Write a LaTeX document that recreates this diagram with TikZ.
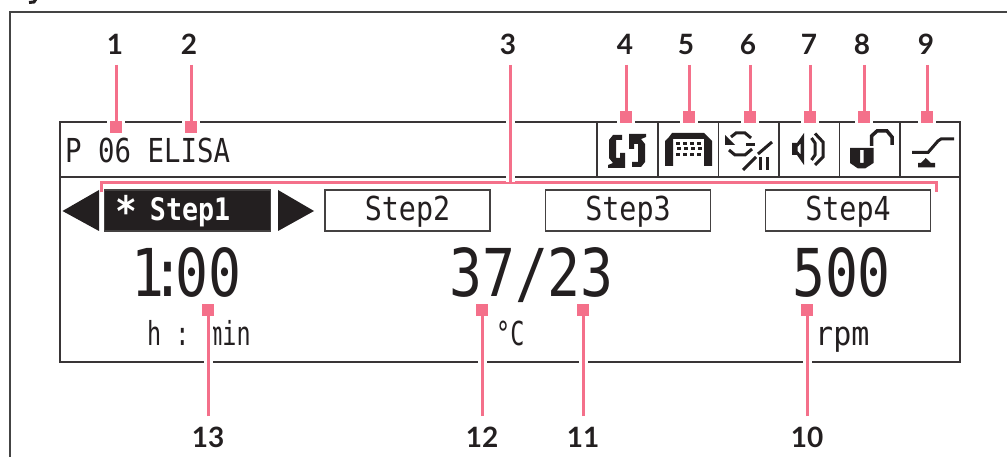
\documentclass[tikz,border=0pt]{standalone}
\usepackage{fontspec}
\newfontfamily\lcdfont[FakeStretch=0.83]{DejaVu Sans Mono}
\newfontfamily\lcdstep[FakeStretch=0.86]{DejaVu Sans Mono}
\newfontfamily\lcdnarrow[FakeStretch=0.71]{DejaVu Sans Mono}
\newfontfamily\lcdwide[FakeStretch=0.91]{DejaVu Sans Mono}
\newfontfamily\numfont{Lato}
\definecolor{pinkc}{HTML}{F4708A}
\definecolor{inkc}{HTML}{231F20}
\definecolor{framec}{HTML}{444444}
\tikzset{
  num/.style={font=\numfont\bfseries\fontsize{28}{28}\selectfont,text=inkc,minimum height=42pt,inner sep=0pt,outer sep=0pt},
  mk/.style={rectangle,fill=pinkc,draw=white,line width=3pt,minimum size=15pt,inner sep=0pt,outer sep=0pt},
  halo/.style={draw=white,line width=9pt},
  pinkline/.style={draw=pinkc,line width=3pt},
  stepbox/.style={rectangle,draw=inkc!85,line width=1.5pt,minimum width=165pt,minimum height=41pt,inner sep=0pt,
    text height=26pt,text depth=5.6pt,text=inkc,font=\lcdstep\fontsize{33}{33}\selectfont},
  lcdsmall/.style={anchor=base west,inner sep=0pt,text=inkc,font=\lcdfont\fontsize{33}{33}\selectfont},
  lcdbig/.style={anchor=base,inner sep=0pt,text=inkc,font=\lcdfont\fontsize{66}{66}\selectfont},
  px/.style={draw=inkc,line width=3pt,line join=miter},
}
\newcommand\callout[2]{%
  \draw[halo] (#1) -- (#2);
  \draw[pinkline] (#1) -- (#2.center);}
\begin{document}
\begin{tikzpicture}[x=1pt,y=-1pt]
\useasboundingbox (0,0) rectangle (1007,457);
\clip (0,0) rectangle (1007,457);
\fill[white] (0,0) rectangle (1007,457);
% outer frame and clipped title descender
\draw[framec,line width=1.6pt] (10,457) -- (10,12) -- (1007,12);
\draw[inkc,line width=3pt] (36,-1) -- (34,2) -- (29,2.5);
% panel
\node[rectangle,draw=inkc!90,line width=1.3pt,minimum width=900pt,minimum height=240pt,inner sep=0pt] (panel) at (510,242) {};
\draw[inkc!90,line width=1.3pt] (60,177) -- (960,177);
\foreach \vx in {597,658,718.5,779,839.5,900}
  \draw[inkc!90,line width=1.3pt] (\vx,122) -- (\vx,177);
% header text
\node[lcdsmall] (title) at (65,163) {P 06 ELISA};
% step row
\fill[inkc] (62.5,211) -- (99,190) -- (99,231) -- cycle;
\fill[inkc] (314,211) -- (278,190) -- (278,231) -- cycle;
\node[stepbox,fill=inkc,minimum width=166pt] (s1) at (187.5,210.5) {};
\node[anchor=base west,inner sep=0pt,text=white,font=\lcdstep\bfseries\fontsize{31}{31}\selectfont] (s1t) at (115,220.5)
  {\raisebox{-6pt}{\fontsize{42}{42}\selectfont *}\hspace{-3pt} Step1};
\node[stepbox] (s2) at (407.5,210.5) {Step2};
\node[stepbox] (s3) at (628,210.5) {Step3};
\node[stepbox] (s4) at (848,210.5) {Step4};
% readouts
\node[lcdbig,anchor=base east] (timev) at (242,296.5) {1\kern-13pt:\kern-9pt 00};
\node[lcdbig] (tempv) at (531.5,296.5) {37/23};
\node[lcdbig] (rpmv) at (841.5,296.5) {500};
\node[anchor=base west,inner sep=0pt,text=inkc,font=\lcdnarrow\fontsize{33}{33}\selectfont] (timeu) at (147,345) {h : min};
\node[anchor=base west,inner sep=0pt,text=inkc,font=\lcdnarrow\fontsize{33}{33}\selectfont] (tempu) at (496,345) {°C};
\node[anchor=base west,inner sep=0pt,text=inkc,font=\lcdwide\fontsize{33}{33}\selectfont] (rpmu) at (815,345) {rpm};
% icon 4: two rotating arrows
\foreach \ang in {0,180}
  \fill[inkc,rotate around={\ang:(627,151)}]
    (622,135) -- (622,140) -- (616,140) -- (616,158) -- (620,158) -- (620,153) -- (625,153) -- (625,168)
    -- (608,168) -- (608,165) -- (613,163) -- (609,158) -- (609,140) -- (613,135) -- cycle;
% icon 5: arch with dots
\fill[inkc] (665,166) -- (665,141) -- (669,137) -- (672,133) -- (704,133) -- (708,137) -- (712,141) -- (712,166)
  -- (704,166) -- (704,139) -- (673,139) -- (673,166) -- cycle;
\foreach \dx in {676,683,690,697} {
  \fill[inkc] (\dx,142) rectangle ++(4,3);
  \fill[inkc] (\dx+1,147.5) rectangle ++(4,3);
  \fill[inkc] (\dx,153) rectangle ++(4,3);
}
% icon 6: cycle arrow, slashes, bars
\draw[px] (731,137) -- (736,133) -- (745,133) -- (751,138);
\draw[px] (729,150) -- (735,155) -- (745,155) -- (752,149);
\fill[inkc] (725,135) -- (725,145) -- (735,145) -- cycle;
\draw[px] (746,145) -- (755,145);
\draw[px] (758,154) -- (772,142);
\draw[px] (743,170) -- (756,157);
\draw[px] (760.5,157) -- (760.5,170);
\draw[px] (767.5,157) -- (767.5,170);
% icon 7: speaker
\fill[inkc,even odd rule] (792,143) -- (797,143) -- (804,133) -- (804,165) -- (797,155) -- (792,155) -- cycle
  (797.5,147) -- (800.5,143.5) -- (800.5,154.5) -- (797.5,151) -- cycle;
\draw[px] (811.5,138) -- (815,143) -- (815,155) -- (811.5,160);
\draw[px] (815,133.5) -- (823,142) -- (823,157) -- (815,165);
% icon 8: open padlock
\fill[inkc,even odd rule] (850,148) -- (873.5,148) -- (873.5,163) -- (865,168.5) -- (858,168.5) -- (850,163) -- cycle
  (860,150) rectangle (863.5,163);
\draw[inkc,line width=3.5pt] (871.5,146) -- (871.5,136) -- (877,131) -- (887,131) -- (892,137) -- (892,145);
% icon 9: foot switch
\draw[px] (912,152.5) -- (928,152.5) -- (938,141) -- (941,139) -- (954,139);
\fill[inkc] (925.7,158) -- (931,163) -- (935,163) -- (935,167.5) -- (918,167.5) -- (918,163) -- (921,163) -- cycle;
% bracket 3
\coordinate (brl) at (101.5,192.5);
\coordinate (brr) at (936.5,192.5);
\coordinate (brm) at (510,182.5);
\draw[pinkline,miter limit=10] (brl) -- (brl |- brm) -- (brr |- brm) -- (brr);
% labels
\node[num] (n1) at (115,44) {1};
\node[num] (n2) at (189,44) {2};
\node[num] (n3) at (508,44) {3};
\node[num] (n4) at (625,44) {4};
\node[num] (n5) at (686,44) {5};
\node[num] (n6) at (748,44) {6};
\node[num] (n7) at (809,44) {7};
\node[num] (n8) at (862,44) {8};
\node[num] (n9) at (926,44) {9};
\node[num] (n13) at (208,437) {13};
\node[num] (n12) at (482,437) {12};
\node[num] (n11) at (583,437) {11};
\node[num] (n10) at (807,437) {10};
% markers
\node[mk] (m1) at (116,127.5) {};
\node[mk] (m2) at (191,127.5) {};
\node[mk] (m4) at (626,117.5) {};
\node[mk] (m5) at (689,117.5) {};
\node[mk] (m6) at (750,117.5) {};
\node[mk] (m7) at (810,117.5) {};
\node[mk] (m8) at (864,117.5) {};
\node[mk] (m9) at (927,117.5) {};
\node[mk] (m13) at (208,310) {};
\node[mk] (m12) at (482,310) {};
\node[mk] (m11) at (583,310) {};
\node[mk] (m10) at (807,310) {};
% connectors
\foreach \i in {1,2,4,5,6,7,8,9} {
  \callout{n\i.south -| m\i}{m\i}
}
\foreach \i in {10,11,12,13} {
  \callout{n\i.north -| m\i}{m\i}
}
\draw[halo] (n3.south -| brm) -- (brm);
\draw[pinkline] (n3.south -| brm) -- (brm);
\end{tikzpicture}
\end{document}
